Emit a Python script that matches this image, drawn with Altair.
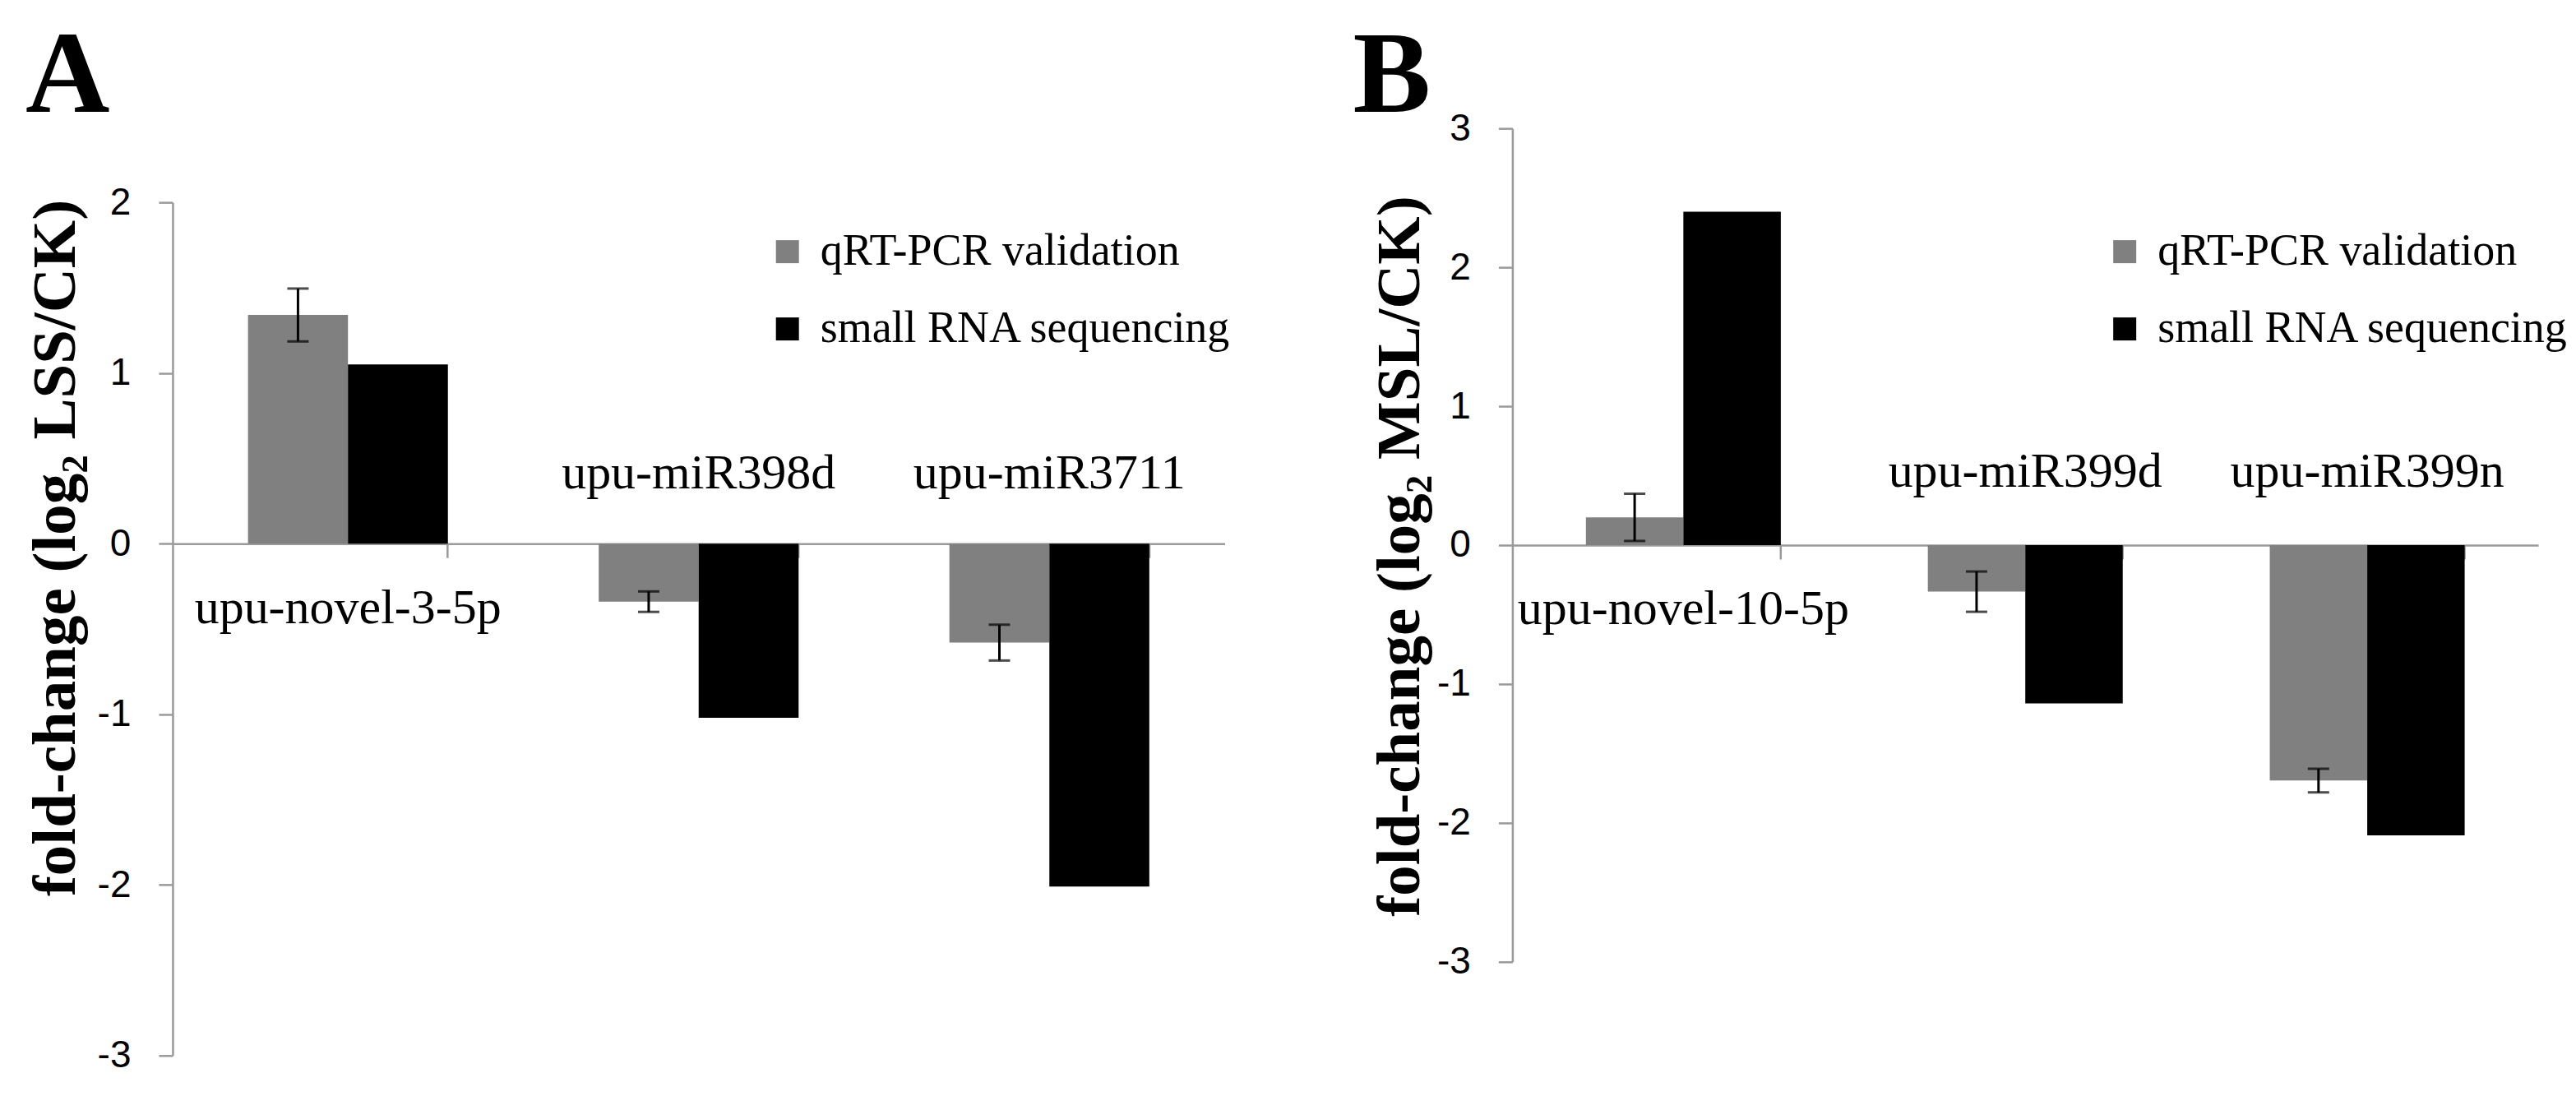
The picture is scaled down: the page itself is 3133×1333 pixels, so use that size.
import altair as alt
import pandas as pd

# ---------------- data ----------------
series_names = ["qRT-PCR validation", "small RNA sequencing"]
series_colors = ["#808080", "#000000"]

a_categories = ["upu-novel-3-5p", "upu-miR398d", "upu-miR3711"]
a_qrt = [1.34, -0.34, -0.58]
a_qrt_err = [0.155, 0.06, 0.105]
a_seq = [1.05, -1.02, -2.01]
a_ticks = [2, 1, 0, -1, -2, -3]
a_domain = [-3, 2]
a_title = "fold-change (log\u2082 LSS/CK)"

b_categories = ["upu-novel-10-5p", "upu-miR399d", "upu-miR399n"]
b_qrt = [0.20, -0.335, -1.695]
b_qrt_err = [0.17, 0.145, 0.085]
b_seq = [2.40, -1.14, -2.09]
b_ticks = [3, 2, 1, 0, -1, -2, -3]
b_domain = [-3, 3]
b_title = "fold-change (log\u2082 MSL/CK)"

AXIS_GRAY = "#9a9a9a"
SERIF = "Liberation Serif"
SANS = "Liberation Sans"


def panel(letter, cats, qrt, err, seq, ticks, domain, title,
          width, height, top_pad, legend_x, legend_y,
          title_x, title_y, letter_x, letter_y, dy_above, dy_below):
    n = len(cats)
    bars = pd.DataFrame({
        "cat": cats * 2,
        "series": [series_names[0]] * n + [series_names[1]] * n,
        "value": qrt + seq,
        "base": [0] * (2 * n),
    })
    errs = pd.DataFrame({
        "cat": cats,
        "series": [series_names[0]] * n,
        "lo": [q - e for q, e in zip(qrt, err)],
        "hi": [q + e for q, e in zip(qrt, err)],
    })
    labels = pd.DataFrame({
        "cat": cats,
        "zero": [0] * n,
        "up": [max(q, s) > 0 for q, s in zip(qrt, seq)],
    })

    lo, hi = domain
    px0 = height - (0 - lo) / (hi - lo) * (height - top_pad)

    x_axis = alt.Axis(title=None, labels=False, grid=False, orient="bottom",
                      offset=-(height - px0), bandPosition=1,
                      domainColor=AXIS_GRAY, domainWidth=2.5,
                      tickColor=AXIS_GRAY, tickWidth=2.5, tickSize=17)
    x_scale = alt.Scale(paddingInner=0.43, paddingOuter=0.215)

    def X():
        return alt.X("cat:N", sort=cats, scale=x_scale, axis=x_axis)

    xo = alt.XOffset("series:N", sort=series_names,
                     scale=alt.Scale(domain=series_names, paddingInner=0, paddingOuter=0))

    y_scale = alt.Scale(domain=domain, range=[height, top_pad], nice=False, zero=False)
    y_axis = alt.Axis(values=ticks, grid=False,
                      domainColor=AXIS_GRAY, domainWidth=2.5,
                      tickColor=AXIS_GRAY, tickWidth=2.5, tickSize=17,
                      labelFont=SANS, labelFontSize=46, labelColor="#000000",
                      labelPadding=34,
                      labelExpr="datum.value < 0 ? '-' + abs(datum.value) : '' + datum.value",
                      title=title, titleFont=SERIF, titleFontWeight="bold",
                      titleFontSize=75, titleColor="#000000", titleAngle=270,
                      titleX=title_x, titleY=title_y,
                      titleBaseline="alphabetic", titleAlign="center")

    def Y(field):
        return alt.Y(field, scale=y_scale, axis=y_axis)

    bar_layer = alt.Chart(bars).mark_bar(strokeWidth=0).encode(
        x=X(), xOffset=xo,
        y=Y("value:Q"), y2=alt.Y2("base:Q"),
        color=alt.Color("series:N", sort=series_names,
                        scale=alt.Scale(domain=series_names, range=series_colors),
                        legend=alt.Legend(orient="none", legendX=legend_x, legendY=legend_y,
                                          title=None, symbolType="square", symbolSize=784,
                                          symbolStrokeWidth=0, symbolOpacity=1,
                                          labelFont=SERIF, labelFontSize=54,
                                          labelColor="#000000", labelOffset=13,
                                          labelLimit=0, rowPadding=40, padding=0)),
    )

    err_rule = alt.Chart(errs).mark_rule(color="#000000", strokeWidth=3).encode(
        x=X(), xOffset=xo, y=Y("lo:Q"), y2=alt.Y2("hi:Q"))
    cap_lo = alt.Chart(errs).mark_tick(color="#000000", thickness=3, size=26).encode(
        x=X(), xOffset=xo, y=Y("lo:Q"))
    cap_hi = alt.Chart(errs).mark_tick(color="#000000", thickness=3, size=26).encode(
        x=X(), xOffset=xo, y=Y("hi:Q"))

    lab_up = labels[labels["up"]]
    lab_down = labels[~labels["up"]]
    text_below = alt.Chart(lab_up).mark_text(
        font=SERIF, fontSize=60, color="#000000", align="center",
        baseline="alphabetic", dy=dy_below).encode(
        x=X(), y=Y("zero:Q"), text="cat:N")
    text_above = alt.Chart(lab_down).mark_text(
        font=SERIF, fontSize=60, color="#000000", align="center",
        baseline="alphabetic", dy=-dy_above).encode(
        x=X(), y=Y("zero:Q"), text="cat:N")

    letter_layer = alt.Chart(pd.DataFrame({"t": [letter]})).mark_text(
        font=SERIF, fontWeight="bold", fontSize=142, color="#000000",
        align="left", baseline="alphabetic").encode(
        text="t:N", x=alt.value(letter_x), y=alt.value(letter_y))

    return alt.layer(bar_layer, err_rule, cap_lo, cap_hi, text_below, text_above,
                     letter_layer).properties(width=width, height=height)


A = panel("A", a_categories, a_qrt, a_qrt_err, a_seq, a_ticks, a_domain, a_title,
          width=1280, height=1128, top_pad=90, legend_x=721, legend_y=123,
          title_x=-119, title_y=510, letter_x=-179, letter_y=-20,
          dy_above=67, dy_below=97)

B = panel("B", b_categories, b_qrt, b_qrt_err, b_seq, b_ticks, b_domain, b_title,
          width=1248, height=1014, top_pad=0, legend_x=718, legend_y=123,
          title_x=-114, title_y=520, letter_x=-194, letter_y=-20,
          dy_above=71, dy_below=96)

chart = alt.hconcat(A, B, spacing=350, bounds="flush").resolve_scale(
    color="independent", x="independent", y="independent", xOffset="independent"
).resolve_legend(color="independent").properties(
    padding={"left": 22, "top": 14, "right": 0, "bottom": 0},
    background="#ffffff",
).configure_view(strokeWidth=0)

chart.save("out.html", embed_options={"renderer": "svg", "actions": False})
